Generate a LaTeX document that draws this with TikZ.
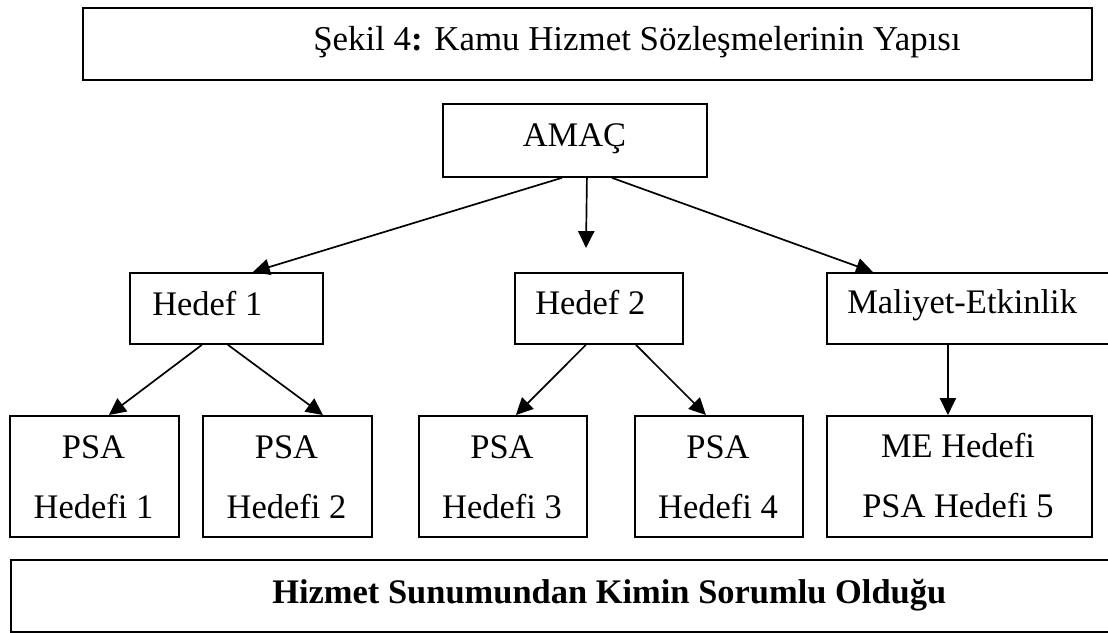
\documentclass[tikz,border=0pt]{standalone}
\usepackage{fontspec}
\setmainfont{Liberation Serif}
\usetikzlibrary{arrows.meta}
\def\px{0.025cm}
\begin{document}
\begin{tikzpicture}[x=0.025cm,y=-0.025cm,
  frame/.style={draw=black, line width=1.3pt, fill=none, inner sep=0pt, anchor=north west},
  label/.style={font=\fontsize{24.5}{29}\selectfont, inner sep=0pt},
  link/.style={line width=1.2pt, -{Triangle[length=12pt,width=11.5pt]}}]
\useasboundingbox (0,0) rectangle (1108,632);
\clip (0,0) rectangle (1108,632);

% boxes (x, y of upper left corner; width and height in pixels)
\node[frame, minimum width=1009*\px, minimum height=72*\px] (title) at (82,7) {};
\node[frame, minimum width=264*\px, minimum height=73*\px] (amac) at (442,103) {};
\node[frame, minimum width=193*\px, minimum height=71*\px] (h1) at (129,272) {};
\node[frame, minimum width=168*\px, minimum height=71*\px] (h2) at (514,272) {};
\node[frame, minimum width=320*\px, minimum height=71*\px] (mal) at (826,272) {};
\node[frame, minimum width=169*\px, minimum height=121*\px] (p1) at (9,415) {};
\node[frame, minimum width=169*\px, minimum height=121*\px] (p2) at (202,415) {};
\node[frame, minimum width=168*\px, minimum height=121*\px] (p3) at (418,415) {};
\node[frame, minimum width=168*\px, minimum height=121*\px] (p4) at (634,415) {};
\node[frame, minimum width=265*\px, minimum height=121*\px] (me) at (826,415) {};
\node[frame, minimum width=1130*\px, minimum height=72*\px] (who) at (10,559) {};

% texts, placed on their baselines
\node[label, anchor=base west, font=\fontsize{24.8}{29}\selectfont] (titletxt) at (313,50) {Şekil 4\textbf{:} Kamu Hizmet Sözleşmelerinin Yapısı};
\node[label, anchor=base] (amactxt) at (574.5,146) {AMAÇ};
\node[label, anchor=base west] (h1txt) at (152,315) {Hedef 1};
\node[label, anchor=base west] (h2txt) at (535,314) {Hedef 2};
\node[label, anchor=base west] (maltxt) at (847,313) {Maliyet-Etkinlik};
\node[label, anchor=base] (p1a) at (93.5,458) {PSA};
\node[label, anchor=base] (p1b) at (93.5,518) {Hedefi 1};
\node[label, anchor=base] (p2a) at (286.5,458) {PSA};
\node[label, anchor=base] (p2b) at (286.5,518) {Hedefi 2};
\node[label, anchor=base] (p3a) at (502,458) {PSA};
\node[label, anchor=base] (p3b) at (502,518) {Hedefi 3};
\node[label, anchor=base] (p4a) at (718,458) {PSA};
\node[label, anchor=base] (p4b) at (718,518) {Hedefi 4};
\node[label, anchor=base] (mea) at (958,457) {ME Hedefi};
\node[label, anchor=base] (meb) at (958,517) {PSA Hedefi 5};
\node[label, anchor=base west, font=\fontsize{24.5}{29}\selectfont\bfseries] (whotxt) at (272,603) {Hizmet Sunumundan Kimin Sorumlu Olduğu};

% connectors
\coordinate (mid) at (586,248);
\draw[link] ([xshift=-13*\px]amac.south) -- ([xshift=26.5*\px]h1.north);
\draw[link] ([xshift=12*\px]amac.south) -- (mid);
\draw[link] ([xshift=37*\px]amac.south) -- ([xshift=-114*\px]mal.north);
\draw[link] ([xshift=-24.5*\px]h1.south) -- ([xshift=14.5*\px]p1.north);
\draw[link] ([xshift=1.5*\px]h1.south) -- ([xshift=35.5*\px]p2.north);
\draw[link] ([xshift=-13*\px]h2.south) -- ([xshift=13*\px]p3.north);
\draw[link] ([xshift=37*\px]h2.south) -- ([xshift=-13*\px]p4.north);
\draw[link] ([xshift=-39*\px]mal.north |- mal.south) -- ([xshift=-11.5*\px]me.north);
\end{tikzpicture}
\end{document}
